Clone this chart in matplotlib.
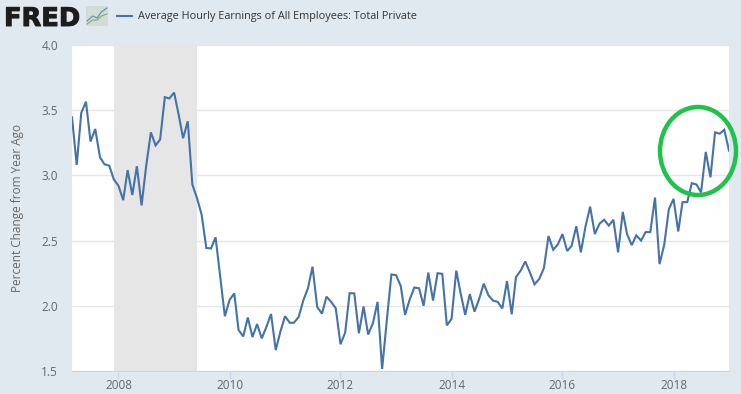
# FRED average hourly earnings chart, percent change from year ago
import pandas as pd
import matplotlib
matplotlib.use('Agg')
import matplotlib.pyplot as plt
import matplotlib.dates as mdates
import matplotlib.patheffects as pe
from matplotlib.patches import Ellipse

plt.rcParams['font.family'] = ['Open Sans', 'DejaVu Sans']

#monthly values, Mar 2007 to Jan 2019
dates = pd.date_range('2007-03-01', periods=143, freq='MS')
values = [3.445, 3.08, 3.48, 3.565, 3.26, 3.356, 3.14, 3.085, 3.075, 2.97,
          2.92, 2.81, 3.04, 2.85, 3.07, 2.77, 3.07, 3.33, 3.23, 3.275,
          3.60, 3.59, 3.635, 3.46, 3.285, 3.415, 2.93, 2.825, 2.70, 2.443,
          2.44, 2.525, 2.22, 1.92, 2.045, 2.095, 1.815, 1.765, 1.91, 1.76,
          1.86, 1.75, 1.84, 1.937, 1.66, 1.80, 1.92, 1.87, 1.87, 1.915,
          2.04, 2.135, 2.30, 1.99, 1.94, 2.07, 2.03, 1.98, 1.705, 1.795,
          2.097, 2.095, 1.79, 1.995, 1.78, 1.865, 2.03, 1.515, 1.89, 2.24,
          2.235, 2.15, 1.93, 2.05, 2.14, 2.135, 2.00, 2.255, 2.04, 2.25,
          2.245, 1.85, 1.90, 2.27, 2.10, 1.93, 2.09, 1.955, 2.05, 2.17,
          2.08, 2.04, 2.03, 1.98, 2.19, 1.935, 2.22, 2.27, 2.34, 2.255,
          2.165, 2.205, 2.29, 2.535, 2.43, 2.47, 2.55, 2.42, 2.46, 2.61,
          2.41, 2.61, 2.76, 2.55, 2.63, 2.66, 2.615, 2.66, 2.41, 2.72,
          2.55, 2.465, 2.54, 2.50, 2.565, 2.565, 2.83, 2.32, 2.47, 2.74,
          2.82, 2.57, 2.795, 2.795, 2.94, 2.93, 2.87, 3.18, 2.985, 3.33,
          3.32, 3.35, 3.19]
recession = ['2007-12-01', '2009-06-01']
year_ticks = [2008, 2010, 2012, 2014, 2016, 2018]
y_ticks = [1.5, 2.0, 2.5, 3.0, 3.5, 4.0]
series_name = 'Average Hourly Earnings of All Employees: Total Private'

W = 741.
H = 394.
bg = '#e1e9f0'
blue = '#4572a7'
grey = '#666666'

fig = plt.figure(figsize=(W/100, H/100), dpi=100, facecolor=bg)
ax = fig.add_axes([72/W, 1-371/H, (729-72)/W, (371-45)/H], facecolor='white')

ax.axvspan(pd.Timestamp(recession[0]), pd.Timestamp(recession[1]), color='#e6e6e6', lw=0, zorder=1)
ax.plot(dates, values, color=blue, lw=1.5, zorder=3, solid_joinstyle='miter')

ax.set_xlim(dates[0], dates[-1])
ax.set_ylim(1.5, 4.0)
ax.set_yticks(y_ticks)
ax.set_yticklabels(['%.1f' % t for t in y_ticks])
ax.set_xticks([mdates.date2num(pd.Timestamp(str(y))) for y in year_ticks])
ax.set_xticklabels([str(y) for y in year_ticks])
ax.grid(axis='y', color='#e6e6e6', lw=1, zorder=0)
ax.set_axisbelow(True)
for s in ['top', 'right', 'left']:
    ax.spines[s].set_visible(False)
ax.spines['bottom'].set_color('#ccd6eb')
ax.tick_params(axis='y', length=0, labelsize=8.5, labelcolor=grey, pad=10)
ax.tick_params(axis='x', length=6, width=1, color='#ccd6eb', labelsize=8.5, labelcolor=grey, pad=0)
ax.set_ylabel('Percent Change from Year Ago', fontsize=8.5, color=grey, va='center')
ax.yaxis.set_label_coords((18-72)/(729-72.), 0.5)

#logo and legend
logo_text = fig.text(4/W, 1-26/H, 'FRED', fontsize=18.5, fontweight='bold', color='#1c1c1c',
                     family=['DejaVu Sans'], va='baseline')
logo_text.set_path_effects([pe.withStroke(linewidth=0.7, foreground='#1c1c1c')])
logo = fig.add_axes([86/W, 1-26/H, 22/W, 20/H], facecolor='#d3dbd9')
logo.set_xticks([])
logo.set_yticks([])
for s in logo.spines.values():
    s.set_visible(False)
logo.plot([0.5, 3, 5, 7, 9.5], [2.5, 5, 4, 7, 9], color='#5d8fb0', lw=0.8)
logo.plot([0.5, 3, 5, 7, 9.5], [1, 3, 3, 5, 6], color='#8aa868', lw=0.8)
logo.set_xlim(0, 10)
logo.set_ylim(0, 10)
fig.add_artist(plt.Line2D([117/W, 132/W], [1-16/H, 1-16/H], color=blue, lw=1.5))
fig.text(137.5/W, 1-16/H, series_name, fontsize=7.8, color='#333333', va='center')

#green circle drawn on top of the chart
fig.add_artist(Ellipse((698/W, 1-151/H), 76/W, 88/H, transform=fig.transFigure,
                       fill=False, edgecolor='#1fc24a', lw=3.2))

fig.savefig('out.png', dpi=100, facecolor=bg)
